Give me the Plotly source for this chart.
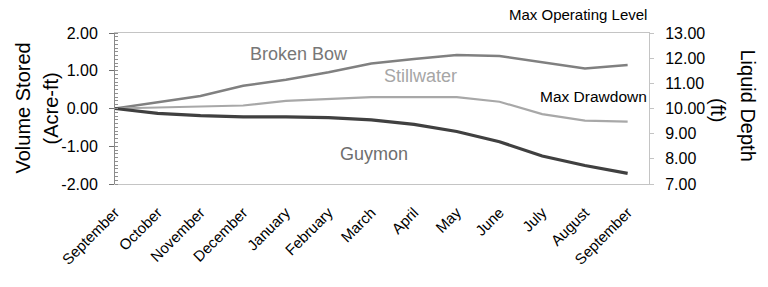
import plotly.graph_objects as go

months = ["September", "October", "November", "December", "January", "February",
          "March", "April", "May", "June", "July", "August", "September"]
x_idx = list(range(len(months)))

broken_bow = [0.00, 0.16, 0.33, 0.60, 0.76, 0.96, 1.19, 1.31, 1.42, 1.39, 1.22, 1.06, 1.15]
stillwater = [0.00, 0.03, 0.05, 0.08, 0.20, 0.25, 0.30, 0.30, 0.30, 0.18, -0.15, -0.32, -0.35]
guymon = [0.00, -0.13, -0.19, -0.22, -0.22, -0.24, -0.30, -0.42, -0.61, -0.88, -1.26, -1.51, -1.72]

volume_ticks = [-2, -1, 0, 1, 2]
volume_ticklabels = ["-2.00", "-1.00", "0.00", "1.00", "2.00"]
depth_range = [7, 13]

FONT = "Liberation Sans, Arial, sans-serif"

fig = go.Figure()
fig.add_trace(go.Scatter(x=x_idx, y=broken_bow, mode="lines", name="Broken Bow",
                         line=dict(color="#808080", width=2.5)))
fig.add_trace(go.Scatter(x=x_idx, y=stillwater, mode="lines", name="Stillwater",
                         line=dict(color="#a8a8a8", width=2.2)))
fig.add_trace(go.Scatter(x=x_idx, y=guymon, mode="lines", name="Guymon",
                         line=dict(color="#404040", width=3.2)))
# invisible trace to activate the right-hand axis
fig.add_trace(go.Scatter(x=[x_idx[0], x_idx[-1]], y=depth_range, yaxis="y2", mode="lines",
                         line=dict(width=0), opacity=0, hoverinfo="skip", showlegend=False))

fig.update_layout(
    width=768, height=287,
    margin=dict(l=115, r=119, t=33, b=103),
    paper_bgcolor="white", plot_bgcolor="white",
    showlegend=False,
    font=dict(family=FONT, color="black"),
    xaxis=dict(
        range=[0, 12.5], tickmode="array", tickvals=x_idx, ticktext=months,
        tickangle=-45, ticks="", showgrid=False, zeroline=False,
        showline=True, linecolor="#c4c4c4", linewidth=1, mirror=True,
        ticklabelstandoff=13,
        tickfont=dict(size=15, family=FONT, color="black"),
    ),
    xaxis3=dict(
        overlaying="x", anchor="free", position=0.5,
        range=[0, 12.5], tickmode="array", tickvals=x_idx,
        showticklabels=False, ticks="outside", ticklen=5, tickcolor="#707070",
        showline=True, linecolor="#8a8a8a", linewidth=1.5, showgrid=False, zeroline=False,
    ),
    yaxis=dict(
        range=[-2, 2], tickmode="array", tickvals=volume_ticks, ticktext=volume_ticklabels,
        ticks="outside", ticklen=5,
        tickcolor="#707070", showline=True, linecolor="#8a8a8a", linewidth=1,
        showgrid=False, zeroline=False, ticklabelstandoff=8,
        minor=dict(tickmode="linear", tick0=0, dtick=0.1, ticks="inside", ticklen=3,
                   tickcolor="#909090"),
        tickfont=dict(size=16, family=FONT, color="black"),
    ),
    yaxis2=dict(
        overlaying="y", side="right", anchor="x",
        range=depth_range, dtick=1, tickformat=".2f", ticks="outside", ticklen=4,
        tickcolor="#c4c4c4", showline=True, linecolor="#c4c4c4", linewidth=1,
        showgrid=False, zeroline=False, ticklabelstandoff=8,
        tickfont=dict(size=16, family=FONT, color="black"),
    ),
)

def px_x(px):
    return (px - 115) / 534.0

annotations = [
    dict(x=px_x(22), y=0.5, xref="paper", yref="paper", text="Volume Stored",
         textangle=-90, showarrow=False, font=dict(size=20, family=FONT, color="black"),
         xanchor="center", yanchor="middle"),
    dict(x=px_x(50), y=0.5, xref="paper", yref="paper", text="(Acre-ft)",
         textangle=-90, showarrow=False, font=dict(size=20, family=FONT, color="black"),
         xanchor="center", yanchor="middle"),
    dict(x=px_x(748), y=0.52, xref="paper", yref="paper", text="Liquid Depth",
         textangle=90, showarrow=False, font=dict(size=20, family=FONT, color="black"),
         xanchor="center", yanchor="middle"),
    dict(x=px_x(718), y=0.49, xref="paper", yref="paper", text="(ft)",
         textangle=90, showarrow=False, font=dict(size=20, family=FONT, color="black"),
         xanchor="center", yanchor="middle"),
    dict(x=1.0, y=1.055, xref="paper", yref="paper", text="Max Operating Level",
         showarrow=False, font=dict(size=15, family=FONT, color="black"),
         xanchor="right", yanchor="bottom"),
    dict(x=1.0, y=0.33, xref="paper", yref="y", text="Max Drawdown",
         showarrow=False, font=dict(size=15.5, family=FONT, color="black"),
         xanchor="right", yanchor="middle"),
    dict(x=4.31, y=1.44, xref="x", yref="y", text="Broken Bow", showarrow=False,
         font=dict(size=18, family=FONT, color="#777777")),
    dict(x=7.14, y=0.86, xref="x", yref="y", text="Stillwater", showarrow=False,
         font=dict(size=18, family=FONT, color="#a6a6a6")),
    dict(x=6.06, y=-1.2, xref="x", yref="y", text="Guymon", showarrow=False,
         font=dict(size=18, family=FONT, color="#6e6e6e")),
]
fig.update_layout(annotations=annotations)

fig.write_html("out.html")
